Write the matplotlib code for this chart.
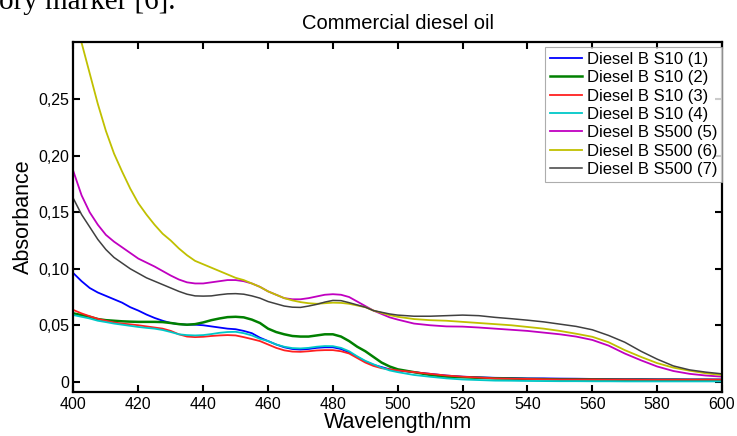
import matplotlib.pyplot as plt
from matplotlib.ticker import FuncFormatter

plt.rcParams['font.family'] = ['Liberation Sans', 'DejaVu Sans']

# wavelength grid (nm): 2.5 nm steps up to 500, then 5 nm
wl = [400 + 2.5 * i for i in range(41)] + list(range(505, 601, 5))

s10_1 = [0.096, 0.089, 0.083, 0.079, 0.076, 0.073, 0.070, 0.066, 0.063, 0.0595, 0.0565,
         0.054, 0.052, 0.051, 0.0505, 0.0505, 0.050, 0.049, 0.048, 0.047, 0.0465, 0.045,
         0.043, 0.039, 0.036, 0.033, 0.0305, 0.029, 0.0285, 0.029, 0.030, 0.0305, 0.0305,
         0.029, 0.026, 0.022, 0.018, 0.015, 0.013, 0.011, 0.010,
         0.0085, 0.007, 0.0055, 0.0045, 0.004, 0.0035, 0.0033, 0.003, 0.003, 0.0028,
         0.0027, 0.0025, 0.0024, 0.0023, 0.0023, 0.0022, 0.0022, 0.0021, 0.0021, 0.002]
s10_2 = [0.0605, 0.059, 0.0575, 0.0555, 0.0545, 0.054, 0.0535, 0.0532, 0.053, 0.053, 0.053,
         0.0528, 0.052, 0.051, 0.0505, 0.051, 0.0525, 0.0545, 0.056, 0.0572, 0.0575, 0.057,
         0.055, 0.052, 0.047, 0.044, 0.042, 0.0405, 0.040, 0.040, 0.041, 0.042, 0.042,
         0.040, 0.036, 0.031, 0.027, 0.022, 0.017, 0.0135, 0.011,
         0.0085, 0.006, 0.0045, 0.004, 0.0035, 0.003, 0.0028, 0.0025, 0.0023, 0.002,
         0.002, 0.002, 0.0019, 0.0018, 0.0018, 0.0017, 0.0017, 0.0016, 0.0016, 0.0015]
s10_3 = [0.0635, 0.0605, 0.058, 0.0557, 0.054, 0.0525, 0.0515, 0.0508, 0.050, 0.049, 0.048,
         0.047, 0.045, 0.042, 0.040, 0.0395, 0.0398, 0.0405, 0.041, 0.0413, 0.041, 0.0395,
         0.0378, 0.036, 0.033, 0.030, 0.0278, 0.0267, 0.0265, 0.027, 0.0277, 0.028, 0.028,
         0.027, 0.025, 0.021, 0.017, 0.014, 0.012, 0.011, 0.010,
         0.0085, 0.007, 0.0055, 0.0045, 0.0037, 0.003, 0.0027, 0.0025, 0.0022, 0.002,
         0.002, 0.002, 0.0019, 0.0019, 0.0018, 0.0018, 0.0018, 0.0018, 0.0018, 0.0018]
s10_4 = [0.059, 0.0575, 0.056, 0.054, 0.0528, 0.0515, 0.0505, 0.0495, 0.0485, 0.0477, 0.047,
         0.0458, 0.044, 0.042, 0.0413, 0.041, 0.0413, 0.0422, 0.0433, 0.044, 0.0442, 0.043,
         0.041, 0.038, 0.036, 0.033, 0.031, 0.0298, 0.0295, 0.030, 0.031, 0.0316, 0.0315,
         0.030, 0.027, 0.0225, 0.0185, 0.0155, 0.0125, 0.010, 0.0085,
         0.006, 0.0044, 0.003, 0.002, 0.0015, 0.001, 0.0009, 0.0007, 0.0006, 0.0005,
         0.0005, 0.0004, 0.0004, 0.0003, 0.0003, 0.0003, 0.0003, 0.0003, 0.0003, 0.0003]
s500_5 = [0.186, 0.165, 0.150, 0.139, 0.130, 0.124, 0.119, 0.114, 0.109, 0.1055, 0.102,
          0.098, 0.094, 0.0905, 0.088, 0.087, 0.087, 0.088, 0.089, 0.090, 0.090, 0.089,
          0.087, 0.084, 0.080, 0.077, 0.074, 0.073, 0.073, 0.074, 0.0755, 0.077, 0.0775,
          0.077, 0.075, 0.071, 0.067, 0.063, 0.060, 0.057, 0.055,
          0.0515, 0.050, 0.049, 0.0488, 0.048, 0.047, 0.046, 0.045, 0.0435, 0.042,
          0.040, 0.037, 0.032, 0.025, 0.019, 0.0135, 0.0095, 0.007, 0.0055, 0.0045]
s500_6 = [0.330, 0.300, 0.273, 0.246, 0.222, 0.202, 0.186, 0.171, 0.158, 0.148, 0.139,
          0.131, 0.125, 0.118, 0.112, 0.107, 0.104, 0.101, 0.098, 0.095, 0.092, 0.090,
          0.087, 0.084, 0.080, 0.077, 0.074, 0.072, 0.0705, 0.0695, 0.069, 0.0695, 0.070,
          0.0698, 0.069, 0.0675, 0.066, 0.063, 0.061, 0.059, 0.0575,
          0.0555, 0.0545, 0.054, 0.053, 0.052, 0.051, 0.050, 0.0485, 0.047, 0.045,
          0.0425, 0.0398, 0.035, 0.028, 0.022, 0.0165, 0.0125, 0.0098, 0.0075, 0.006]
s500_7 = [0.162, 0.148, 0.137, 0.126, 0.117, 0.110, 0.105, 0.100, 0.096, 0.092, 0.089,
          0.086, 0.083, 0.080, 0.0775, 0.076, 0.0758, 0.076, 0.077, 0.0778, 0.078, 0.0775,
          0.076, 0.074, 0.071, 0.069, 0.067, 0.066, 0.0658, 0.067, 0.0685, 0.0705, 0.072,
          0.0718, 0.070, 0.068, 0.066, 0.063, 0.0615, 0.060, 0.059,
          0.058, 0.058, 0.0585, 0.059, 0.0585, 0.057, 0.0558, 0.0545, 0.053, 0.051,
          0.049, 0.046, 0.041, 0.035, 0.027, 0.020, 0.014, 0.0105, 0.0085, 0.007]

series = [s10_1, s10_2, s10_3, s10_4, s500_5, s500_6, s500_7]
labels = ["Diesel B S10 (1)", "Diesel B S10 (2)", "Diesel B S10 (3)", "Diesel B S10 (4)",
          "Diesel B S500 (5)", "Diesel B S500 (6)", "Diesel B S500 (7)"]
colors = ["#0000ff", "#008000", "#ff2020", "#00c8c8", "#c000c0", "#c0c000", "#404040"]
widths = [1.3, 1.8, 1.3, 1.3, 1.3, 1.3, 1.1]

xticks = list(range(400, 601, 20))
yticks = [0, 0.05, 0.10, 0.15, 0.20, 0.25]

fig = plt.figure(figsize=(7.37, 4.36), dpi=100)
ax = fig.add_axes([0.0997, 0.0998, 0.88, 0.8046])

for y, lab, c, lw in zip(series, labels, colors, widths):
    ax.plot(wl, y, color=c, lw=lw, label=lab)

ax.set_xlim(400, 600)
ax.set_ylim(-0.0095, 0.301)
ax.set_xticks(xticks)
ax.set_yticks(yticks)

def comma(v, pos):
    if v == 0:
        return "0"
    return f"{v:.2f}".replace(".", ",")

ax.yaxis.set_major_formatter(FuncFormatter(comma))
ax.tick_params(direction='in', length=5, width=1.5, top=True, right=True,
               labelsize=11.5, pad=3)
for sp in ax.spines.values():
    sp.set_linewidth(1.6)

ax.set_xlabel("Wavelength/nm", fontsize=15.5, labelpad=0)
ax.set_ylabel("Absorbance", fontsize=15.5, labelpad=3)
ax.set_title("Commercial diesel oil", fontsize=14.5, pad=9)

leg = ax.legend(loc='upper right', bbox_to_anchor=(1.0, 0.985), fontsize=12,
                frameon=True, fancybox=False, borderaxespad=0, handlelength=1.9,
                handletextpad=0.3, labelspacing=0.2, borderpad=0.3)
leg.get_frame().set_edgecolor('#999999')
leg.get_frame().set_linewidth(0.8)

# cut-off line of body text above the figure
fig.text(-0.002, 1 - 9 / 436, "ory marker [6].", family='Liberation Serif',
         fontsize=21, va='baseline', ha='left')

fig.savefig("out.png", dpi=100)
